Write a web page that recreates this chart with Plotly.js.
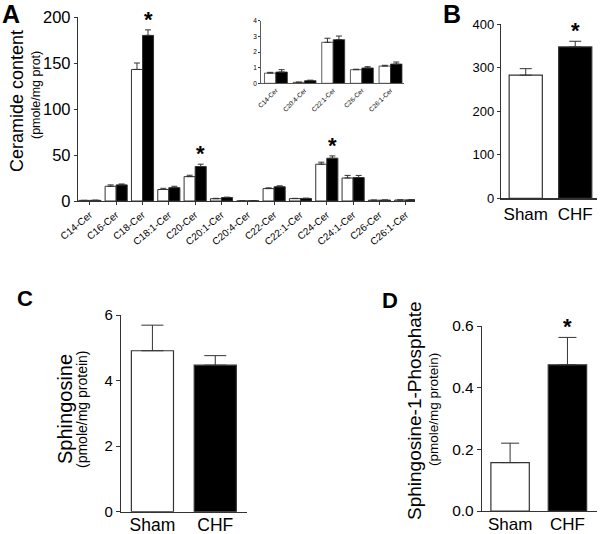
<!DOCTYPE html>
<html><head><meta charset="utf-8">
<script src="https://cdn.plot.ly/plotly-3.0.1.min.js"></script>
<style>html,body{margin:0;padding:0;background:#fff}</style>
</head><body><div id="chart" style="width:600px;height:534px"></div>
<script>
// Panel A: ceramide species
const cerCategories = ['C14-Cer','C16-Cer','C18-Cer','C18:1-Cer','C20-Cer','C20:1-Cer','C20:4-Cer','C22-Cer','C22:1-Cer','C24-Cer','C24:1-Cer','C26-Cer','C26:1-Cer'];
const cerSham    = [0.65, 16, 143, 12.5, 26.5, 2.5, 0.06, 13.5, 2.62, 40, 25, 0.87, 1.1];
const cerShamErr = [0.05, 1.5, 7, 1.3, 1.5, 0.4, 0.02, 0.8, 0.26, 2.2, 2.8, 0.03, 0.05];
const cerCHF     = [0.72, 17.5, 180, 14.5, 37.5, 3.8, 0.17, 15.5, 2.79, 46.5, 25.5, 0.98, 1.23];
const cerCHFErr  = [0.15, 1, 6, 1.5, 2.5, 0.4, 0.03, 1, 0.23, 2.5, 2.3, 0.08, 0.13];
const cerCHFSig  = [false,false,true,false,true,false,false,false,false,true,false,false,false];
// Inset of panel A (low-abundance species)
const insetCategories = ['C14-Cer','C20:4-Cer','C22:1-Cer','C26-Cer','C26:1-Cer'];
// Panels B, C, D
const groups = ['Sham','CHF'];
const totalCer = [283, 348];
const totalCerErr = [15, 13];
const totalCerSig = [false, true];
const sph = [4.91, 4.47];
const sphErr = [0.78, 0.29];
const sphSig = [false, false];
const s1p = [0.157, 0.474];
const s1pErr = [0.063, 0.089];
const s1pSig = [false, true];

const FONT = 'Arial, Liberation Sans, sans-serif';
const LINE = '#333';
const groupColors = ['#ffffff', '#000000'];

function errObj(arr, w){
  return {type:'data', symmetric:false, array:arr, arrayminus:arr.map(()=>0),
          color:LINE, thickness:1, width:w};
}
const idx = insetCategories.map(c => cerCategories.indexOf(c));
const pick = (a) => idx.map(i => a[i]);

const traces = [
  {type:'bar', name:'Sham', x:cerCategories, y:cerSham, xaxis:'x', yaxis:'y',
   width:0.42, offset:-0.42, marker:{color:'#fff', line:{color:LINE, width:1}},
   error_y:errObj(cerShamErr, 3), showlegend:false},
  {type:'bar', name:'CHF', x:cerCategories, y:cerCHF, xaxis:'x', yaxis:'y',
   width:0.42, offset:0, marker:{color:'#000', line:{color:LINE, width:1}},
   error_y:errObj(cerCHFErr, 3), showlegend:false},
  {type:'bar', name:'Sham', x:insetCategories, y:pick(cerSham), xaxis:'x2', yaxis:'y2',
   width:0.4, offset:-0.4, marker:{color:'#fff', line:{color:LINE, width:0.8}},
   error_y:errObj(pick(cerShamErr), 3), showlegend:false},
  {type:'bar', name:'CHF', x:insetCategories, y:pick(cerCHF), xaxis:'x2', yaxis:'y2',
   width:0.4, offset:0, marker:{color:'#000', line:{color:LINE, width:0.8}},
   error_y:errObj(pick(cerCHFErr), 3), showlegend:false},
  {type:'bar', x:groups, y:totalCer, xaxis:'x3', yaxis:'y3', width:0.67,
   marker:{color:groupColors, line:{color:LINE, width:1.2}}, error_y:errObj(totalCerErr, 6), showlegend:false},
  {type:'bar', x:groups, y:sph, xaxis:'x4', yaxis:'y4', width:0.67,
   marker:{color:groupColors, line:{color:LINE, width:1.2}}, error_y:errObj(sphErr, 11), showlegend:false},
  {type:'bar', x:groups, y:s1p, xaxis:'x5', yaxis:'y5', width:0.67,
   marker:{color:groupColors, line:{color:LINE, width:1.2}}, error_y:errObj(s1pErr, 9), showlegend:false}
];

function ax(o){
  return Object.assign({showline:true, linecolor:LINE, linewidth:1.2, ticks:'outside', ticklen:4,
    tickcolor:LINE, showgrid:false, zeroline:false, fixedrange:true,
    tickfont:{family:FONT, color:'#000', size:12}}, o);
}
const H = 534, W = 600;
const px = v => v / W, py = v => 1 - v / H;

const annotations = [];
function star(xref, yref, x, y, size){
  annotations.push({xref, yref, x, y, text:'<b>*</b>', showarrow:false, yanchor:'bottom',
    font:{family:FONT, size:size, color:'#000'}, yshift:-4});
}
cerCategories.forEach((c,i)=>{ if(cerCHFSig[i]) star('x','y', i+0.21, cerCHF[i]+cerCHFErr[i], 22); });
groups.forEach((g,i)=>{ if(totalCerSig[i]) star('x3','y3', i, totalCer[i]+totalCerErr[i], 22); });
groups.forEach((g,i)=>{ if(sphSig[i]) star('x4','y4', i, sph[i]+sphErr[i], 22); });
groups.forEach((g,i)=>{ if(s1pSig[i]) star('x5','y5', i, s1p[i]+s1pErr[i], 22); });

function label(t, x, y, size, bold, angle){
  annotations.push({xref:'paper', yref:'paper', x:px(x), y:py(y), text: bold ? '<b>'+t+'</b>' : t,
    showarrow:false, xanchor:'center', yanchor:'middle', textangle:angle||0,
    font:{family:FONT, size:size, color:'#000'}});
}
label('A', 11, 14, 25, true);
label('B', 452, 14, 25, true);
label('C', 25, 298, 22, true);
label('D', 390, 300, 22, true);
label('Ceramide content', 17, 101, 18, false, -90);
label('(pmole/mg prot)', 36, 95, 12.5, false, -90);
label('Sphingosine', 65, 409, 20, false, -90);
label('(pmole/mg protein)', 82, 409, 14, false, -90);
label('Sphingosine-1-Phosphate', 414, 410, 19, false, -90);
label('(pmole/mg protein)', 433, 410, 13.5, false, -90);

const layout = {
  width:W, height:H, margin:{l:0, r:0, t:0, b:0}, paper_bgcolor:'#fff', plot_bgcolor:'rgba(0,0,0,0)',
  barmode:'overlay', showlegend:false,
  xaxis: ax({domain:[px(78), px(415)], range:[-0.45, 12.35], anchor:'y', type:'category',
    tickangle:-40, tickfont:{family:FONT, size:10, color:'#000'}, ticklen:3}),
  yaxis: ax({domain:[py(201), py(17)], range:[0,200], dtick:50, anchor:'x', ticklen:3,
    tickfont:{family:FONT, size:16.5, color:'#000'}}),
  xaxis2: ax({domain:[px(261), px(404)], range:[-0.52, 4.47], anchor:'y2', type:'category',
    tickangle:-45, tickfont:{family:FONT, size:6.5, color:'#000'}, ticklen:0, linewidth:0.8}),
  yaxis2: ax({domain:[py(83.3), py(20.7)], range:[0,4], dtick:1, anchor:'x2', ticklen:2, linewidth:0.8,
    tickfont:{family:FONT, size:6.5, color:'#000'}}),
  xaxis3: ax({domain:[px(501), px(597)], range:[-0.5, 1.44], anchor:'y3', type:'category', ticklen:0,
    tickfont:{family:FONT, size:17, color:'#000'}}),
  yaxis3: ax({domain:[py(198.3), py(24.3)], range:[0,400], dtick:100, anchor:'x3', ticklen:3,
    tickfont:{family:FONT, size:13, color:'#000'}}),
  xaxis4: ax({domain:[px(121), px(246.7)], range:[-0.5, 1.5], anchor:'y4', type:'category', ticklen:0,
    ticklabelstandoff:-3, tickfont:{family:FONT, size:17.5, color:'#000'}}),
  yaxis4: ax({domain:[py(511.7), py(315)], range:[0,6], dtick:2, anchor:'x4', ticklen:4,
    tickfont:{family:FONT, size:15, color:'#000'}}),
  xaxis5: ax({domain:[px(482), px(596.7)], range:[-0.49, 1.51], anchor:'y5', type:'category', ticklen:0,
    ticklabelstandoff:-3, tickfont:{family:FONT, size:17, color:'#000'}}),
  yaxis5: ax({domain:[py(511), py(326)], range:[0,0.6], dtick:0.2, tickformat:'.1f', anchor:'x5', ticklen:4,
    tickfont:{family:FONT, size:15.5, color:'#000'}}),
  annotations
};
Plotly.newPlot('chart', traces, layout, {displayModeBar:false, staticPlot:true});
</script></body></html>
